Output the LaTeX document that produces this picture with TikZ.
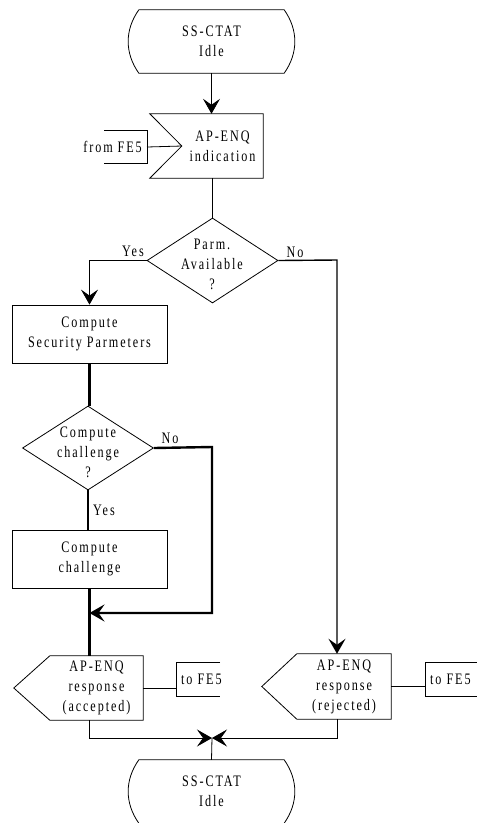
\documentclass[tikz,border=0pt]{standalone}
\usepackage{fontspec}
\setmainfont{Liberation Serif}[FakeStretch=0.76,LetterSpace=12]
\usetikzlibrary{arrows.meta, positioning, shapes.geometric}

\begin{document}
\begin{tikzpicture}[x=1pt, y=-1pt,
					>={Stealth[length=15pt,width=17pt,inset=6pt]},
					thin line/.style={line width=0.8pt},
					thick line/.style={line width=2.4pt},
					every node/.style={font=\fontsize{16}{20}\selectfont, align=center},
					statebox/.style={minimum width=145pt, minimum height=63pt, inner sep=0pt},
					task/.style={draw, thin line, rectangle, minimum width=155pt, minimum height=58pt, inner sep=0pt},
					decision/.style={draw, thin line, diamond, minimum width=131pt, minimum height=85pt, inner sep=0pt},
					body/.style={rectangle, minimum height=64pt, inner sep=0pt},
					env/.style={minimum height=33pt, inner xsep=5pt, inner ysep=0pt}]

					\useasboundingbox (0,0) rectangle (477,823);

					% states
					\node[statebox] (idle1) at (211.5,41.5) {SS-CTAT\\Idle};
					\draw[thin line] (idle1.north west) -- (idle1.north east) to[bend left=35] (idle1.south east) -- (idle1.south west) to[bend left=35] (idle1.north west);
					\node[statebox] (idle2) at (211.5,791.5) {SS-CTAT\\Idle};
					\draw[thin line] (idle2.south west) to[bend left=35] (idle2.north west) -- (idle2.north east) to[bend left=35] (idle2.south east);

					% input signal
					\node[body, minimum width=81pt] (ind) at (222.5,146) {AP-ENQ\\indication};
					\draw[thin line] (ind.north east) -- (ind.south east) -- ([xshift=-32pt]ind.south west) -- (ind.west) -- ([xshift=-32pt]ind.north west) -- cycle;
					\node[env, anchor=east] (fromfe) at (147,147) {from FE5};
					\draw[thin line] ([xshift=-43pt]fromfe.north east) -- (fromfe.north east) -- (fromfe.south east) -- ([xshift=-43pt]fromfe.south east);
					\draw[thin line] (fromfe.east) -- (ind.west);
					\draw[thin line, ->] (idle1.south) -- (idle1.south |- ind.north);

					% first decision
					\node[decision] (parm) at (212.5,260.5) {};
					\node (parmtxt) at (212,264) {Parm.\\Available\\?};
					\draw[thin line] (ind.south -| parm.north) -- (parm.north);

					\node[task] (secp) at (89.5,334) {Compute\\Security Parmeters};
					\draw[thin line, ->] (parm.west) -| (secp.north);
					\node (yes1) at (133,251) {Yes};

					% second decision
					\node[decision, minimum height=84pt] (chal) at (88,448) {};
					\node (chaltxt) at (88,452) {Compute\\challenge\\?};
					\draw[thick line] (secp.south) -- (secp.south |- chal.north);

					\node[task] (cchal) at (89.5,559) {Compute\\challenge};
					\draw[thick line] (chal.south) -- (chal.south |- cchal.north);
					\node (yes2) at (104,510) {Yes};

					\coordinate (no2turn) at (212,447);
					\coordinate (merge) at (89.5,613);
					\draw[thick line, ->] (chal.east) -- (no2turn) -- (no2turn |- merge) -- (merge);
					\node (no2) at (170,438) {No};

					% output signals
					\node[body, minimum width=93pt] (acc) at (96.5,688) {AP-ENQ\\response\\(accepted)};
					\draw[thin line] (acc.north west) -- (acc.north east) -- (acc.south east) -- (acc.south west) -- ([xshift=-36pt]acc.west) -- cycle;
					\draw[thick line] (cchal.south) -- (cchal.south |- acc.north);
					\node[env, anchor=west] (tofe1) at (176,679.5) {to FE5};
					\draw[thin line] ([xshift=44pt]tofe1.north west) -- (tofe1.north west) -- (tofe1.south west) -- ([xshift=44pt]tofe1.south west);
					\draw[thin line] (acc.east) -- (tofe1.west |- acc.east);

					\coordinate (noturn) at (337,260);
					\node[body, minimum width=94pt, minimum height=65pt] (rej) at (344,686.5) {AP-ENQ\\response\\(rejected)};
					\draw[thin line] (rej.north west) -- (rej.north east) -- (rej.south east) -- (rej.south west) -- ([xshift=-35pt]rej.west) -- cycle;
					\draw[line width=1.4pt, ->] (parm.east) -- (noturn) -- (noturn |- rej.north);
					\node (no1) at (295,252) {No};
					\node[env, anchor=west] (tofe2) at (425,679.5) {to FE5};
					\draw[thin line] ([xshift=60pt]tofe2.north west) -- (tofe2.north west) -- (tofe2.south west) -- ([xshift=60pt]tofe2.south west);
					\draw[thin line] (rej.east) -- (tofe2.west |- rej.east);

					% back to idle
					\coordinate (join) at (212,738);
					\draw[thin line, ->] (cchal.south |- acc.south) |- (join);
					\draw[thin line, ->] (noturn |- rej.south) |- (join);
					\draw[thin line] (join) -- (idle2.north);
				\end{tikzpicture}
\end{document}
